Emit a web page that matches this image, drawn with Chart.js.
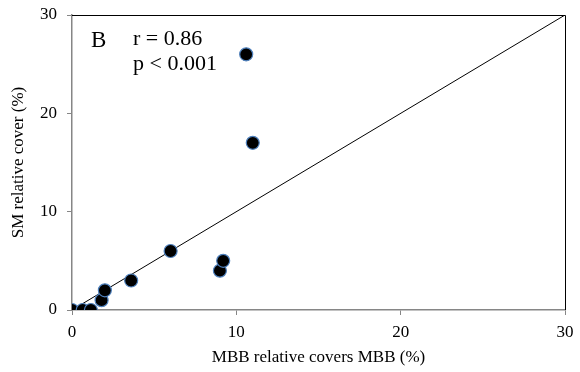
<!DOCTYPE html>
<html>
<head>
<meta charset="utf-8">
<script src="https://cdn.jsdelivr.net/npm/chart.js@4"></script>
<style>
  html, body { margin: 0; padding: 0; background: #fff; }
  #wrap { width: 580px; height: 372px; }
</style>
</head>
<body>
<div id="wrap"><canvas id="myChart" width="580" height="372"></canvas></div>
<script>
// #-------------- Chart data --------------#
const mbbCover = [0.0, 0.65, 1.15, 1.8, 2.0, 3.6, 6.0, 9.0, 9.2, 10.6, 11.0];
const smCover  = [0.0, 0.0, 0.0, 1.0, 2.0, 3.0, 6.0, 4.0, 5.0, 26.0, 17.0];
const fitLineX = [0, 30];
const fitLineY = [0, 30];
const axisTicks = [0, 10, 20, 30];
const panelLabel = 'B';
const statLines = ['r = 0.86', 'p < 0.001'];

const serif = "'Liberation Serif', 'Times New Roman', serif";
const axisGray = '#868686';

// points for chart.js
const scatterPoints = mbbCover.map((x, i) => ({x: x, y: smCover[i]}));
const linePoints = fitLineX.map((x, i) => ({x: x, y: fitLineY[i]}));

// draws top/right frame and the text box in the corner
const framePlugin = {
    id: 'frame',
    beforeDatasetsDraw(chart) {
        const {ctx, chartArea: a} = chart;
        ctx.save();
        ctx.strokeStyle = '#000';
        ctx.lineWidth = 1;
        ctx.beginPath();
        ctx.moveTo(a.left, a.top + 0.5);
        ctx.lineTo(a.right + 0.5, a.top + 0.5);
        ctx.lineTo(a.right + 0.5, a.bottom);
        ctx.stroke();
        ctx.restore();
    },
    afterDraw(chart) {
        const {ctx, chartArea: a} = chart;
        ctx.save();
        ctx.fillStyle = '#000';
        ctx.textBaseline = 'alphabetic';
        ctx.font = '23px ' + serif;
        ctx.fillText(panelLabel, a.left + 19, a.top + 32);
        ctx.font = '22px ' + serif;
        ctx.fillText(statLines[0], a.left + 61, a.top + 30);
        ctx.fillText(statLines[1], a.left + 61, a.top + 55);
        ctx.restore();
    }
};

const tickFont = {family: serif, size: 17};
const titleFont = {family: serif, size: 17};

new Chart(document.getElementById('myChart').getContext('2d'), {
    type: 'scatter',
    data: {
        datasets: [{
            type: 'line',
            data: linePoints,
            borderColor: '#000',
            borderWidth: 1,
            pointRadius: 0,
            fill: false,
            order: 2
        }, {
            data: scatterPoints,
            backgroundColor: '#000',
            borderColor: '#4f81bd',
            borderWidth: 1.2,
            pointRadius: 6.5,
            order: 1
        }]
    },
    options: {
        responsive: false,
        animation: false,
        layout: {padding: {top: 15, right: 15, left: 0, bottom: 0}},
        plugins: {legend: {display: false}, tooltip: {enabled: false}},
        scales: {
            x: {
                type: 'linear', min: 0, max: 30,
                afterBuildTicks: s => { s.ticks = axisTicks.map(v => ({value: v})); },
                afterFit: s => { s.height = 62; s.paddingLeft = 0; s.paddingRight = 0; },
                grid: {drawOnChartArea: false, color: axisGray, tickLength: 5},
                border: {color: axisGray, width: 1.5},
                ticks: {color: '#000', font: tickFont, padding: 7},
                title: {display: true, text: 'MBB relative covers MBB (%)', color: '#000',
                        font: titleFont, padding: {top: 2}}
            },
            y: {
                type: 'linear', min: 0, max: 30,
                afterBuildTicks: s => { s.ticks = axisTicks.map(v => ({value: v})); },
                afterFit: s => { s.width = 72; s.paddingTop = 0; s.paddingBottom = 0; },
                grid: {drawOnChartArea: false, color: axisGray, tickLength: 5},
                border: {color: axisGray, width: 1.5},
                ticks: {color: '#000', font: tickFont, padding: 10},
                title: {display: true, text: 'SM relative cover (%)', color: '#000',
                        font: titleFont, padding: {top: 8, bottom: 4}}
            }
        }
    },
    plugins: [framePlugin]
});
</script>
</body>
</html>
